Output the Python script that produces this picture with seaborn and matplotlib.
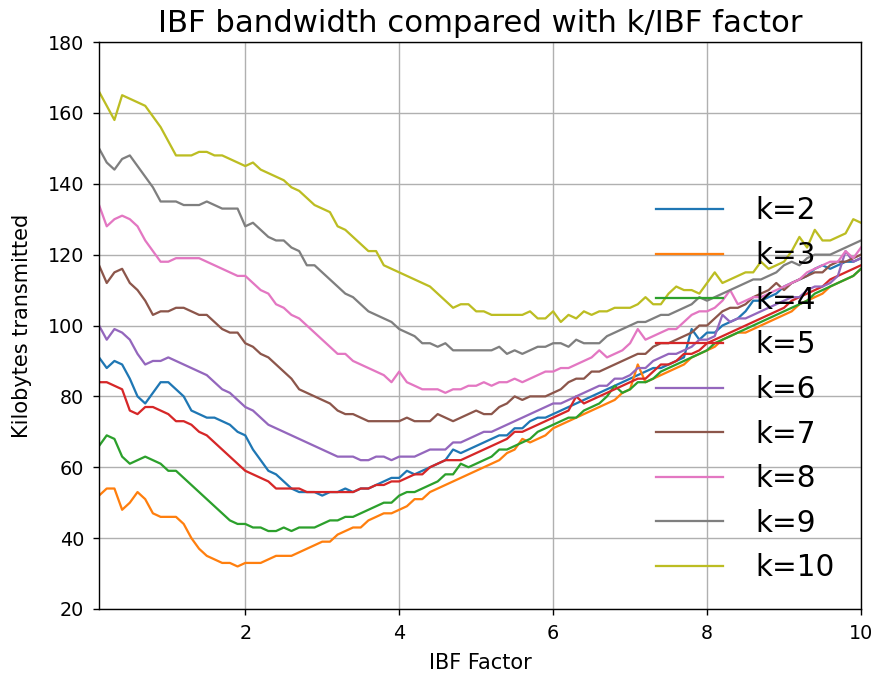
import numpy as np
import pandas as pd
import matplotlib
matplotlib.use("Agg")
import matplotlib.pyplot as plt
import seaborn as sns

# IBF factor sampled from 0.1 to 10.0 in steps of 0.1
ibf_factor = np.round(np.arange(1, 101) * 0.1, 1)

k_values = [2, 3, 4, 5, 6, 7, 8, 9, 10]

kb_k2 = [91, 88, 90, 89, 85, 80, 78, 81, 84, 84,
         82, 80, 76, 75, 74, 74, 73, 72, 70, 69,
         65, 62, 59, 58, 56, 54, 53, 53, 53, 52,
         53, 53, 54, 53, 54, 54, 55, 56, 57, 57,
         59, 58, 59, 60, 61, 62, 65, 64, 65, 66,
         67, 68, 69, 69, 71, 71, 73, 74, 74, 75,
         76, 77, 78, 79, 80, 81, 82, 83, 84, 85,
         86, 87, 88, 88, 89, 90, 91, 99, 96, 98,
         98, 100, 101, 102, 104, 107, 107, 108, 109, 111,
         112, 113, 114, 116, 117, 116, 117, 118, 118, 119]

kb_k3 = [52, 54, 54, 48, 50, 53, 51, 47, 46, 46,
         46, 44, 40, 37, 35, 34, 33, 33, 32, 33,
         33, 33, 34, 35, 35, 35, 36, 37, 38, 39,
         39, 41, 42, 43, 43, 45, 46, 47, 47, 48,
         49, 51, 51, 53, 54, 55, 56, 57, 58, 59,
         60, 61, 62, 64, 65, 68, 67, 68, 69, 71,
         72, 73, 74, 75, 76, 77, 78, 79, 81, 82,
         89, 84, 85, 86, 87, 88, 89, 91, 92, 93,
         94, 96, 97, 98, 98, 99, 100, 101, 102, 103,
         104, 106, 107, 108, 109, 111, 112, 113, 114, 116]

kb_k4 = [66, 69, 68, 63, 61, 62, 63, 62, 61, 59,
         59, 57, 55, 53, 51, 49, 47, 45, 44, 44,
         43, 43, 42, 42, 43, 42, 43, 43, 43, 44,
         45, 45, 46, 46, 47, 48, 49, 50, 50, 52,
         53, 53, 54, 55, 56, 58, 58, 61, 60, 61,
         62, 63, 65, 65, 66, 67, 68, 70, 71, 72,
         73, 74, 74, 76, 77, 78, 80, 83, 81, 82,
         84, 84, 85, 87, 88, 89, 90, 91, 92, 93,
         95, 96, 97, 98, 99, 100, 101, 102, 103, 104,
         105, 106, 107, 109, 110, 111, 112, 113, 114, 116]

kb_k5 = [84, 84, 83, 82, 76, 75, 77, 77, 76, 75,
         73, 73, 72, 70, 69, 67, 65, 63, 61, 59,
         58, 57, 56, 54, 54, 54, 54, 53, 53, 53,
         53, 53, 53, 53, 54, 54, 55, 55, 56, 56,
         57, 58, 58, 60, 61, 62, 62, 62, 63, 64,
         65, 66, 67, 68, 70, 70, 71, 72, 73, 74,
         75, 76, 80, 78, 79, 80, 81, 82, 83, 84,
         85, 85, 87, 89, 89, 90, 92, 92, 93, 95,
         96, 97, 98, 99, 100, 101, 102, 103, 104, 105,
         107, 108, 109, 110, 111, 113, 114, 115, 116, 117]

kb_k6 = [100, 96, 99, 98, 96, 92, 89, 90, 90, 91,
         90, 89, 88, 87, 86, 84, 82, 81, 79, 77,
         76, 74, 72, 71, 70, 69, 68, 67, 66, 65,
         64, 63, 63, 63, 62, 62, 63, 63, 62, 63,
         63, 63, 64, 65, 65, 65, 67, 67, 68, 69,
         70, 70, 71, 72, 73, 74, 75, 76, 77, 78,
         78, 79, 80, 81, 82, 83, 83, 85, 85, 86,
         88, 88, 90, 91, 92, 92, 93, 94, 96, 96,
         97, 103, 101, 102, 102, 103, 104, 105, 106, 107,
         108, 108, 110, 111, 111, 112, 114, 121, 118, 119]

kb_k7 = [117, 112, 115, 116, 112, 110, 107, 103, 104, 104,
         105, 105, 104, 103, 103, 101, 99, 98, 98, 95,
         94, 92, 91, 89, 87, 85, 82, 81, 80, 79,
         78, 76, 75, 75, 74, 73, 73, 73, 73, 73,
         74, 73, 73, 73, 75, 74, 73, 74, 75, 76,
         75, 75, 77, 78, 80, 79, 80, 80, 80, 81,
         82, 84, 85, 85, 87, 87, 88, 89, 90, 91,
         92, 92, 94, 95, 95, 96, 97, 98, 100, 100,
         102, 104, 105, 105, 106, 108, 109, 110, 112, 110,
         112, 113, 114, 115, 115, 117, 118, 118, 119, 120]

kb_k8 = [134, 128, 130, 131, 130, 128, 124, 121, 118, 118,
         119, 119, 119, 119, 118, 117, 116, 115, 114, 114,
         112, 110, 109, 106, 105, 103, 102, 100, 98, 96,
         94, 92, 92, 90, 89, 88, 87, 86, 84, 87,
         84, 83, 82, 82, 82, 81, 82, 82, 83, 83,
         84, 83, 84, 84, 85, 84, 85, 86, 87, 87,
         88, 88, 89, 90, 91, 93, 91, 92, 93, 95,
         99, 96, 97, 98, 99, 99, 101, 103, 104, 104,
         105, 107, 110, 106, 107, 108, 108, 109, 110, 111,
         112, 113, 115, 116, 117, 118, 118, 121, 119, 122]

kb_k9 = [150, 146, 144, 147, 148, 145, 142, 139, 135, 135,
         135, 134, 134, 134, 135, 134, 133, 133, 133, 128,
         129, 127, 125, 124, 124, 122, 121, 117, 117, 115,
         113, 111, 109, 108, 106, 104, 103, 102, 101, 99,
         98, 97, 95, 95, 94, 95, 93, 93, 93, 93,
         93, 93, 94, 92, 93, 92, 93, 94, 94, 95,
         95, 94, 96, 95, 95, 95, 97, 98, 99, 100,
         101, 101, 102, 103, 103, 104, 105, 106, 108, 107,
         108, 109, 110, 111, 112, 113, 113, 114, 115, 117,
         118, 117, 119, 120, 120, 120, 121, 122, 123, 124]

kb_k10 = [166, 162, 158, 165, 164, 163, 162, 159, 156, 152,
          148, 148, 148, 149, 149, 148, 148, 147, 146, 145,
          146, 144, 143, 142, 141, 139, 138, 136, 134, 133,
          132, 128, 127, 125, 123, 121, 121, 117, 116, 115,
          114, 113, 112, 111, 109, 107, 105, 106, 106, 104,
          104, 103, 103, 103, 103, 103, 104, 102, 102, 104,
          101, 103, 102, 104, 103, 104, 104, 105, 105, 105,
          106, 108, 106, 106, 109, 111, 110, 110, 109, 112,
          115, 112, 113, 114, 115, 115, 118, 116, 117, 118,
          121, 125, 122, 127, 124, 124, 125, 126, 130, 129]

series = [kb_k2, kb_k3, kb_k4, kb_k5, kb_k6, kb_k7, kb_k8, kb_k9, kb_k10]
labels = [f"k={k}" for k in k_values]

df = pd.concat(
    [pd.DataFrame({"IBF Factor": ibf_factor, "Kilobytes transmitted": vals, "k": lab})
     for lab, vals in zip(labels, series)],
    ignore_index=True,
)

DPI = 125
fig, ax = plt.subplots(figsize=(878 / DPI, 679 / DPI), dpi=DPI)
fig.subplots_adjust(left=0.1128, right=0.9806, top=0.9381, bottom=0.1031)

sns.lineplot(data=df, x="IBF Factor", y="Kilobytes transmitted", hue="k",
             hue_order=labels, palette="tab10", estimator=None,
             linewidth=1.3, ax=ax)

ax.set_xlim(0.1, 10)
ax.set_ylim(20, 180)
ax.set_xticks([2, 4, 6, 8, 10])
ax.set_yticks(np.arange(20, 181, 20))
ax.grid(True, color="#b0b0b0", linewidth=0.8)
ax.tick_params(labelsize=11, pad=5)
ax.set_xlabel("IBF Factor", fontsize=12, labelpad=6)
ax.set_ylabel("Kilobytes transmitted", fontsize=12, labelpad=9)
ax.set_title("IBF bandwidth compared with k/IBF factor", fontsize=17.7)

handles, leg_labels = ax.get_legend_handles_labels()
ax.legend(handles, leg_labels, loc="lower right", frameon=False, fontsize=17,
          handlelength=2.25, handletextpad=1.1, labelspacing=0.53)

fig.savefig("out.png", dpi=DPI)
